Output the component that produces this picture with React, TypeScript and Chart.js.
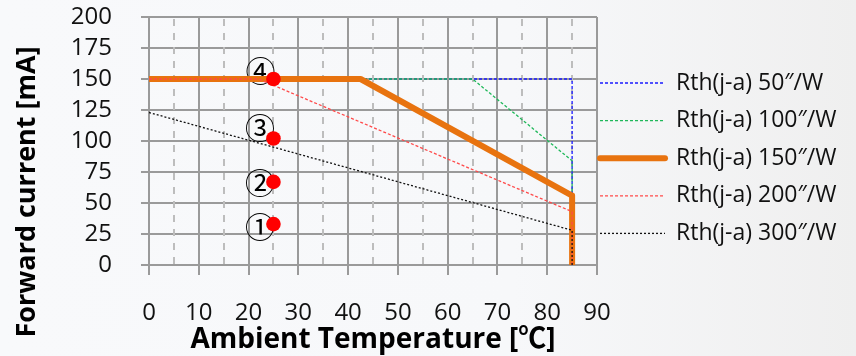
import React, { useEffect, useRef } from 'react';
import { Chart, registerables } from 'chart.js';

Chart.register(...registerables);

// ---- data ----
const xTickValues = [0, 10, 20, 30, 40, 50, 60, 70, 80, 90];
const yTickValues = [0, 25, 50, 75, 100, 125, 150, 175, 200];
const minorXValues = [5, 15, 25, 35, 45, 55, 65, 75, 85];

const seriesNames = [
  'Rth(j-a) 50″/W',
  'Rth(j-a) 100″/W',
  'Rth(j-a) 150″/W',
  'Rth(j-a) 200″/W',
  'Rth(j-a) 300″/W',
];

const rth50T = [0, 85, 85];
const rth50I = [150, 150, 0];
const rth100T = [0, 65, 85, 85];
const rth100I = [150, 150, 84, 0];
const rth150T = [0, 42.5, 85, 85];
const rth150I = [150, 150, 56, 0];
const rth200T = [0, 22, 85, 85];
const rth200I = [150, 150, 43, 0];
const rth300T = [0, 85, 85];
const rth300I = [123, 28, 0];

const markT = [25, 25, 25, 25];
const markI = [33, 67, 102, 150];
const markLabels = ['①', '②', '③', '④'];
const markLabelT = [22.3, 22.3, 22.3, 22.4];
const markLabelI = [31.5, 67, 111.5, 157.5];

const xTitle = 'Ambient Temperature [℃]';
const yTitle = 'Forward current [mA]';

// ---- styles ----
const FONT = '"Open Sans", "Noto Sans CJK JP", sans-serif';
const GRID = '#9a9a9a';
const styles = [
  { color: '#1a1aff', width: 1.3, dash: [3, 2] },
  { color: '#1fb85a', width: 1.3, dash: [3, 2] },
  { color: '#e8730f', width: 6, dash: [] as number[] },
  { color: '#ff4a4a', width: 1.3, dash: [3, 2] },
  { color: '#111111', width: 1.3, dash: [2, 2] },
];

const toPts = (xs: number[], ys: number[]) => xs.map((x, i) => ({ x, y: ys[i] }));

export default function App() {
  const ref = useRef<HTMLCanvasElement | null>(null);

  useEffect(() => {
    if (!ref.current) return;
    const series = [
      toPts(rth50T, rth50I),
      toPts(rth100T, rth100I),
      toPts(rth150T, rth150I),
      toPts(rth200T, rth200I),
      toPts(rth300T, rth300I),
    ];
    // drawing order: blue(bottom), green, orange, red, black, points(top)
    const drawOrder = [5, 4, 3, 2, 1];
    const lineSets = series.map((data, i) => ({
      type: 'line' as const,
      label: seriesNames[i],
      data,
      borderColor: styles[i].color,
      borderWidth: styles[i].width,
      borderDash: styles[i].dash,
      borderCapStyle: i === 2 ? 'round' : 'butt',
      borderJoinStyle: i === 2 ? 'round' : 'miter',
      pointRadius: 0,
      fill: false,
      tension: 0,
      order: drawOrder[i],
    }));

    const minorGrid = {
      id: 'minorGrid',
      beforeDatasetsDraw(chart: any) {
        const { ctx, chartArea, scales } = chart;
        ctx.save();
        ctx.strokeStyle = '#bdbdbd';
        ctx.lineWidth = 2;
        ctx.setLineDash([7, 7]);
        minorXValues.forEach((v) => {
          const px = Math.round(scales.x.getPixelForValue(v));
          ctx.beginPath();
          ctx.moveTo(px, chartArea.top + 2);
          ctx.lineTo(px, chartArea.bottom);
          ctx.stroke();
        });
        ctx.restore();
        // circled labels
        ctx.save();
        ctx.fillStyle = '#000';
        ctx.font = '30px "Noto Sans CJK JP", sans-serif';
        ctx.textAlign = 'center';
        ctx.textBaseline = 'middle';
        markLabels.forEach((t, i) => {
          const px = scales.x.getPixelForValue(markLabelT[i]);
          const py = scales.y.getPixelForValue(markLabelI[i]);
          ctx.fillText(t, px, py + 1);
        });
        ctx.restore();
      },
    };

    const extras = {
      id: 'extras',
      afterDraw(chart: any) {
        const { ctx, chartArea } = chart;
        // legend
        ctx.save();
        styles.forEach((s, i) => {
          const y = chartArea.top + 66 + i * 37.6;
          ctx.beginPath();
          ctx.strokeStyle = s.color;
          ctx.lineWidth = s.width;
          ctx.setLineDash(s.dash);
          ctx.lineCap = i === 2 ? 'round' : 'butt';
          ctx.moveTo(chartArea.right + 3, y);
          ctx.lineTo(chartArea.right + 68, y);
          ctx.stroke();
          ctx.setLineDash([]);
          ctx.fillStyle = '#111';
          ctx.font = '23px ' + FONT;
          ctx.textAlign = 'left';
          ctx.textBaseline = 'middle';
          ctx.fillText(seriesNames[i], chartArea.right + 79, y);
        });
        ctx.restore();
        // axis titles
        ctx.save();
        ctx.fillStyle = '#000';
        ctx.font = 'bold 28px ' + FONT;
        ctx.textAlign = 'center';
        ctx.textBaseline = 'middle';
        ctx.fillText(xTitle, (chartArea.left + chartArea.right) / 2, chartArea.bottom + 75);
        ctx.translate(27, chartArea.top + 175);
        ctx.rotate(-Math.PI / 2);
        ctx.font = 'bold 27px ' + FONT;
        ctx.fillText(yTitle, 0, 0);
        ctx.restore();
      },
    };

    const chart = new Chart(ref.current, {
      type: 'line',
      data: {
        datasets: [
          {
            type: 'scatter',
            label: 'marks',
            data: toPts(markT, markI),
            backgroundColor: '#ff0000',
            borderWidth: 0,
            pointRadius: 7.3,
            order: 0,
          } as any,
          ...(lineSets as any[]),
        ],
      },
      options: {
        animation: false,
        responsive: false,
        devicePixelRatio: 1,
        layout: { padding: { top: 17, right: 259, left: 0, bottom: 0 } },
        plugins: { legend: { display: false }, tooltip: { enabled: false }, title: { display: false } },
        scales: {
          x: {
            type: 'linear',
            min: 0,
            max: 90,
            afterFit: (s: any) => {
              s.height = 91;
              s.paddingLeft = 0;
              s.paddingRight = 0;
            },
            afterBuildTicks: (s: any) => { s.ticks = xTickValues.map((v) => ({ value: v })); },
            ticks: {
              font: { family: FONT, size: 24 },
              color: '#111',
              padding: 24,
              maxRotation: 0,
              autoSkip: false,
              callback: (v: any) => String(v),
            },
            grid: { color: GRID, lineWidth: 2, tickLength: 10, drawTicks: true },
            border: { color: GRID, width: 2 },
          },
          y: {
            type: 'linear',
            min: 0,
            max: 200,
            afterFit: (s: any) => {
              s.width = 149;
              s.paddingTop = 0;
              s.paddingBottom = 0;
            },
            afterBuildTicks: (s: any) => { s.ticks = yTickValues.map((v) => ({ value: v })); },
            ticks: {
              font: { family: FONT, size: 24 },
              color: '#111',
              padding: 29,
              autoSkip: false,
              callback: (v: any) => String(v),
            },
            grid: { color: GRID, lineWidth: 2, tickLength: 8, drawTicks: true },
            border: { color: GRID, width: 2 },
          },
        },
      } as any,
      plugins: [minorGrid, extras],
    });
    return () => chart.destroy();
  }, []);

  return (
    <div
      style={{
        position: 'fixed',
        left: 0,
        top: 0,
        width: 856,
        height: 356,
        background: 'linear-gradient(90deg, #f8f9fb 0%, #f7f8fa 60%, #efefef 100%)',
      }}
    >
      <canvas ref={ref} width={856} height={356} style={{ display: 'block' }} />
    </div>
  );
}
